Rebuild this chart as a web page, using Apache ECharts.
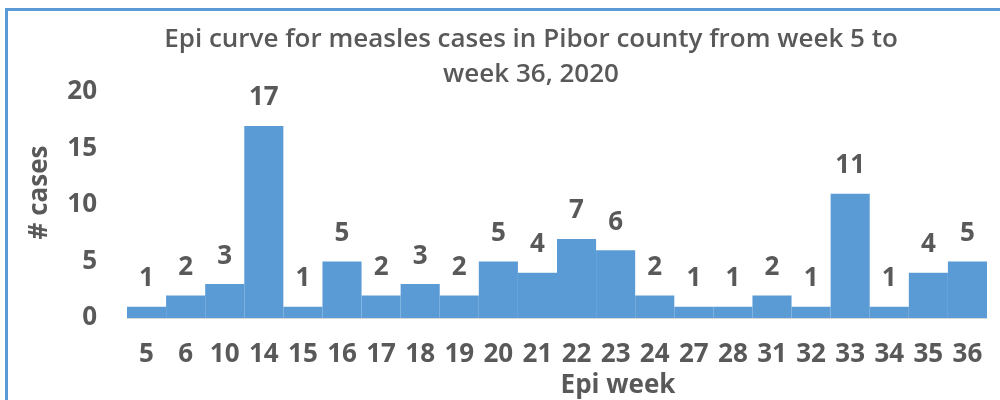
<!DOCTYPE html>
<html>
<head>
<meta charset="utf-8">
<script src="https://cdn.jsdelivr.net/npm/echarts@6/dist/echarts.min.js"></script>
<style>
  html, body { margin: 0; padding: 0; background: #fff; }
  .frame {
    position: absolute;
    left: 5px; top: 8px;
    width: 995px; height: 392px;
    border-top: 3px solid #5b9bd5;
    border-left: 3px solid #5b9bd5;
    box-sizing: border-box;
  }
  #chart { position: absolute; left: 0; top: 0; width: 1000px; height: 400px; }
</style>
</head>
<body>
<div class="frame"></div>
<div id="chart"></div>
<script>
// epi weeks and case counts
const weeks = ['5', '6', '10', '14', '15', '16', '17', '18', '19', '20', '21',
  '22', '23', '24', '27', '28', '31', '32', '33', '34', '35', '36']
const cases = [1, 2, 3, 17, 1, 5, 2, 3, 2, 5, 4, 7, 6, 2, 1, 1, 2, 1, 11, 1, 4, 5]
const yTicks = [0, 5, 10, 15, 20]

const textColor = '#595959'
const font = 'Open Sans'

const chart = echarts.init(document.getElementById('chart'))
chart.setOption({
  animation: false,
  title: {
    text: 'Epi curve for measles cases in Pibor county from week 5 to\nweek 36, 2020',
    left: 526,
    top: 17,
    textAlign: 'center',
    textStyle: {
      color: textColor,
      fontFamily: font,
      fontWeight: 600,
      fontSize: 26,
      lineHeight: 35
    }
  },
  grid: {
    left: 127,
    right: 13,
    top: 92,
    bottom: 82,
    outerBoundsMode: 'none'
  },
  xAxis: {
    type: 'category',
    data: weeks,
    name: 'Epi week',
    nameLocation: 'middle',
    nameGap: 53,
    nameTextStyle: {
      color: textColor,
      fontFamily: font,
      fontWeight: 'bold',
      fontSize: 26,
      padding: [0, 0, 0, 122]
    },
    axisLine: { lineStyle: { color: '#d9d9d9', width: 1 } },
    axisTick: { show: false },
    axisLabel: {
      color: textColor,
      fontFamily: font,
      fontWeight: 'bold',
      fontSize: 26,
      margin: 24,
      interval: 0
    }
  },
  yAxis: {
    type: 'value',
    min: yTicks[0],
    max: yTicks[yTicks.length - 1],
    interval: 5,
    name: '# cases',
    nameLocation: 'middle',
    nameGap: 74,
    nameTextStyle: {
      color: textColor,
      fontFamily: font,
      fontWeight: 'bold',
      fontSize: 26,
      padding: [0, 0, 0, 25]
    },
    splitLine: { show: false },
    axisLine: { show: false },
    axisTick: { show: false },
    axisLabel: {
      color: textColor,
      fontFamily: font,
      fontWeight: 'bold',
      fontSize: 26,
      margin: 30
    }
  },
  series: [{
    type: 'bar',
    data: cases,
    barCategoryGap: '0%',
    itemStyle: { color: '#5b9bd5' },
    label: {
      show: true,
      position: 'top',
      distance: 15,
      color: textColor,
      fontFamily: font,
      fontWeight: 'bold',
      fontSize: 26
    }
  }]
})
</script>
</body>
</html>
